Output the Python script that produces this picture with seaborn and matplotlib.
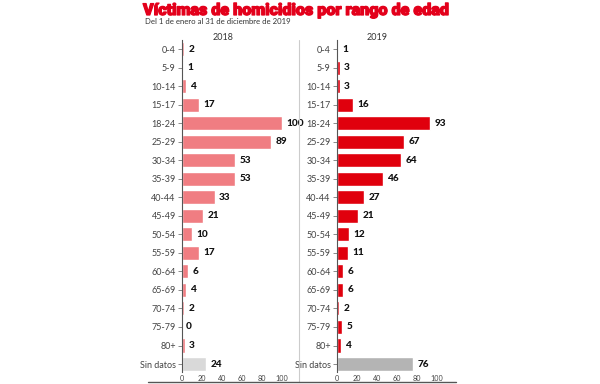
import matplotlib
matplotlib.use("Agg")
import matplotlib.pyplot as plt
import seaborn as sns
import pandas as pd
from matplotlib.lines import Line2D
import matplotlib.patheffects as pe

categories = ["0-4", "5-9", "10-14", "15-17", "18-24", "25-29", "30-34", "35-39",
              "40-44", "45-49", "50-54", "55-59", "60-64", "65-69", "70-74", "75-79",
              "80+", "Sin datos"]
values_2018 = [2, 1, 4, 17, 100, 89, 53, 53, 33, 21, 10, 17, 6, 4, 2, 0, 3, 24]
values_2019 = [1, 3, 3, 16, 93, 67, 64, 46, 27, 21, 12, 11, 6, 6, 2, 5, 4, 76]
x_ticks = [0, 20, 40, 60, 80, 100]
title = "Víctimas de homicidios por rango de edad"
subtitle = "Del 1 de enero al 31 de diciembre de 2019"

sns.set_theme(style="white")
plt.rcParams["font.family"] = ["Lato", "DejaVu Sans"]

W, H = 600, 384
fig = plt.figure(figsize=(6, 3.84), dpi=100)

def px_box(x0, x1, ytop, ybot):
    return [x0 / W, (H - ybot) / H, (x1 - x0) / W, (ybot - ytop) / H]

panels = [
    ("2018", values_2018, "#f07d82", "#d9d9d9", 182, 223),
    ("2019", values_2019, "#e0000d", "#b4b4b4", 337, 377),
]

for year, vals, color, nodata, x0, tcx in panels:
    ax = fig.add_axes(px_box(x0, x0 + 100, 40, 372))
    df = pd.DataFrame({"cat": categories, "val": vals})
    pal = {c: (nodata if c == "Sin datos" else color) for c in categories}
    sns.barplot(data=df, x="val", y="cat", hue="cat", palette=pal, legend=False,
                orient="h", width=0.76, ax=ax, saturation=1)
    ax.set_xlim(0, 100)
    ax.set_ylim(17.43, -0.49)
    ax.set_xlabel("")
    ax.set_ylabel("")
    for s in ["top", "right", "bottom"]:
        ax.spines[s].set_visible(False)
    ax.spines["left"].set_color("#555555")
    ax.spines["left"].set_linewidth(0.8)
    ax.set_xticks(x_ticks)
    ax.tick_params(axis="x", direction="in", length=9, width=0.8, color="#555555",
                   labelsize=5.2, labelcolor="#444444", pad=2)
    ax.tick_params(axis="y", direction="out", length=3, width=0.6, color="#777777",
                   labelsize=6.5, labelcolor="#444444", pad=1.5, left=True)
    for cont in ax.containers:
        ax.bar_label(cont, padding=3, fontsize=7.2, fontweight="black", color="#111111")
    fig.text(tcx / W, 1 - 37 / H, year, ha="center", va="center", fontsize=6.5,
             color="#333333")

# separator and bottom rule
fig.add_artist(Line2D([299 / W, 299 / W], [1 - 40 / H, 1 - 382 / H],
                      color="#cccccc", lw=0.8, transform=fig.transFigure))
fig.add_artist(Line2D([148 / W, 456 / W], [1 - 382 / H, 1 - 382 / H],
                      color="#555555", lw=1.0, transform=fig.transFigure))

fig.text(296 / W, 1 - 10 / H, title, ha="center", va="center", fontsize=11.6,
         fontweight="black", color="#e3001b", family=["Roboto", "Lato", "DejaVu Sans"],
         path_effects=[pe.withStroke(linewidth=0.9, foreground="#e3001b")])
fig.text(145 / W, 1 - 22 / H, subtitle, ha="left", va="center", fontsize=5.6,
         color="#333333")

fig.savefig("out.png", dpi=100, facecolor="white")
